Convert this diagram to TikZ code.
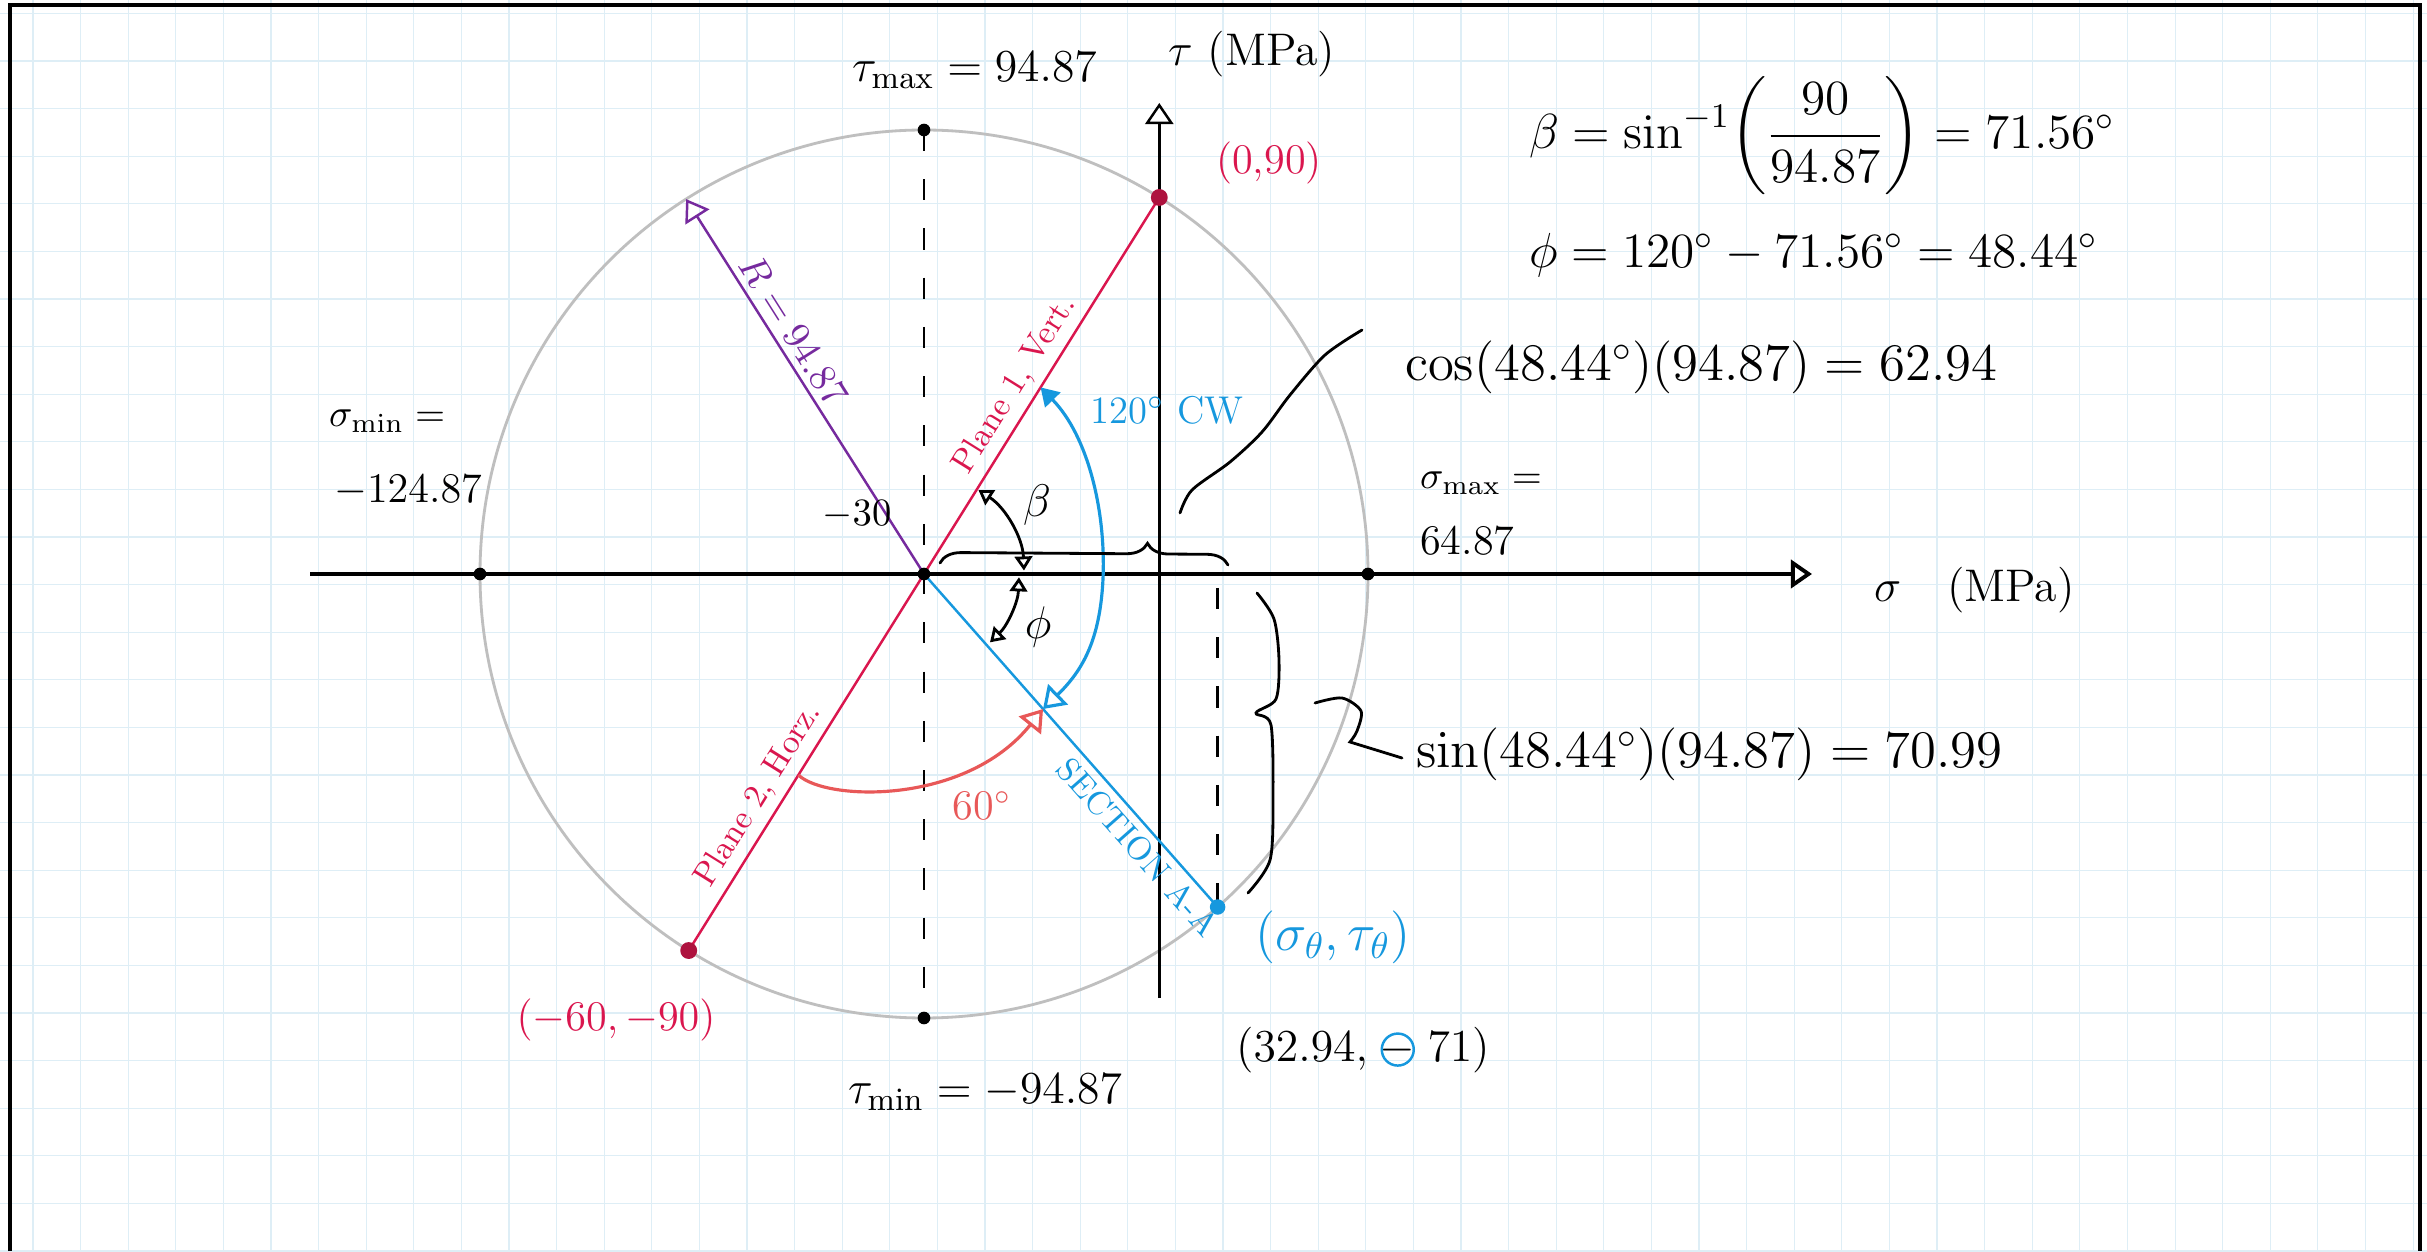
\RequirePackage{fix-cm}
\documentclass[tikz,border=0pt]{standalone}
\usepackage{amsmath,amssymb}
\usepackage{xcolor}
\usetikzlibrary{arrows.meta,calc,decorations.pathreplacing}

\definecolor{penred}{RGB}{218,22,78}
\definecolor{penpink}{RGB}{232,88,88}
\definecolor{penblue}{RGB}{22,152,222}
\definecolor{penpurple}{RGB}{118,42,158}
\definecolor{gridblue}{RGB}{222,238,246}

\newcommand{\fsz}[1]{\fontsize{#1}{#1}\selectfont}

\begin{document}
\begin{tikzpicture}[x=0.01cm, y=0.01cm,
  >={Triangle[open, length=6pt, width=8pt]},
  dot/.style={circle, fill=black, inner sep=0pt, minimum size=3.6pt},
  reddot/.style={circle, fill=penred!80!black, inner sep=0pt, minimum size=4.8pt},
  bluedot/.style={circle, fill=penblue, inner sep=0pt, minimum size=4.4pt},
  lbl/.style={inner sep=1pt, anchor=west, font=\fsz{12}},
  eqn/.style={inner sep=1pt, anchor=west, font=\fsz{15}},
  onplane/.style={inner sep=2pt, sloped, font=\fsz{9.5}},
  hand/.style={line width=0.8pt, line cap=round},
  dashline/.style={line width=0.8pt, dash pattern=on 6pt off 8pt}]

  \useasboundingbox (0,0) rectangle (2427,1251);
  \fill[white] (0,0) rectangle (2427,1251);
  \foreach \i in {0,...,50}
    \draw[gridblue, line width=0.3pt] (33+47.6*\i,0) -- ++(0,1251);
  \foreach \j in {0,...,26}
    \draw[gridblue, line width=0.3pt] (0,47.6*\j) -- ++(2427,0);
  \draw[line width=1.3pt] (10,0) -- (10,1246) -- (2420,1246) -- (2420,0);

  \coordinate (C) at (924,677);
  \coordinate (P1) at ($(C)+(58:444)$);
  \coordinate (P2) at ($(C)+(238:444)$);
  \coordinate (PA) at ($(C)+(-48.6:444)$);
  \coordinate (R) at ($(C)+(122.4:444)$);
  \coordinate (Tmax) at ($(C)+(90:444)$);
  \coordinate (Tmin) at ($(C)+(270:444)$);
  \coordinate (PAx) at ($(PA|-C)+(0,-14)$);
  \coordinate (sl) at (310,677);
  \coordinate (sr) at (1812,677);
  \coordinate (tb) at ($(P1|-C)+(0,-424)$);
  \coordinate (tt) at ($(P1|-C)+(0,471)$);

  \draw[gray!50, line width=0.8pt] (C) circle[radius=444];
  \draw[->, line width=1.1pt] (sl) -- (sr);
  \draw[->, line width=0.7pt] (tb) -- (tt);
  \draw[dashline] (Tmax) -- (Tmin);
  \draw[dashline] (PAx) -- (PA);

  \draw[penred, line width=0.7pt] (P2) -- (P1);
  \path (C) -- node[onplane, above, pos=0.47, text=penred] (pl1) {Plane 1, Vert.} (P1);
  \path (P2) -- node[onplane, above, pos=0.38, text=penred] (pl2) {Plane 2, Horz.} (C);
  \draw[penpurple, line width=0.7pt, ->] (C) -- (R);
  \path (R) -- node[onplane, above, pos=0.38, text=penpurple, font=\fsz{11}] (rlbl) {$R = 94.87$} (C);
  \draw[penblue, line width=0.7pt] (C) -- (PA);
  \path (C) -- node[onplane, below, pos=0.78, text=penblue] (sec) {SECTION A-A} (PA);

  \draw[hand, {Triangle[open,length=4pt,width=5pt]}-{Triangle[open,length=4pt,width=5pt]}]
    ($(C)+(57:100)$) arc[start angle=57, end angle=2, radius=100];
  \draw[hand, {Triangle[open,length=4pt,width=5pt]}-{Triangle[open,length=4pt,width=5pt]}]
    ($(C)+(-2:95)$) arc[start angle=-2, end angle=-46, radius=95];
  \node[font=\fsz{13}] (beta) at (1037,746) {$\beta$};
  \node[font=\fsz{13}] (phi) at (1038,624) {$\phi$};

  \coordinate (cwS) at ($(C)+(58:220)$);
  \coordinate (cwE) at ($(C)+(-48.6:180)$);
  \coordinate (sixS) at ($(C)+(238:237)$);
  \draw[penblue, line width=0.9pt, {Triangle[length=5pt,width=6pt]}-{Triangle[open,length=6pt,width=8pt]}]
    (cwS) .. controls (1088,815) and (1106,740) .. (1103,672) .. controls (1100,610) and (1082,580) .. (cwE);
  \node[text=penblue, font=\fsz{11}] (cw) at (1167,841) {120$^\circ$ CW};
  \draw[penpink, line width=0.9pt, ->] (sixS) .. controls (825,450) and (965,445) .. (cwE);
  \node[text=penpink, font=\fsz{12}] (sixty) at (982,445) {60$^\circ$};

  \draw[hand, decorate, decoration={brace, amplitude=6pt, aspect=0.72}] (940,688) -- (1228,686);
  \draw[hand] plot[smooth] coordinates {(1180,738) (1192,761) (1230,789) (1262,819) (1290,856) (1325,896) (1362,921)};
  \draw[hand] plot[smooth, tension=0.5] coordinates {(1257,658) (1274,632) (1279,591) (1276,552) (1256,538) (1271,526) (1273,451) (1270,391) (1248,358)};
  \draw[hand] plot[smooth] coordinates {(1315,548) (1342,553) (1361,540) (1357,520) (1350,509)} -- (1402,493);

  \node[dot] (cdot) at (C) {};
  \node[dot] (smin) at ($(C)+(180:444)$) {};
  \node[dot] (smax) at ($(C)+(0:444)$) {};
  \node[dot] (tmax) at (Tmax) {};
  \node[dot] (tmin) at (Tmin) {};
  \node[reddot] (p1dot) at (P1) {};
  \node[reddot] (p2dot) at (P2) {};
  \node[bluedot] (padot) at (PA) {};

  \node[lbl, font=\fsz{13}] (taumax) at (848,1181) {$\tau_{\mathrm{max}} = 94.87$};
  \node[lbl, font=\fsz{13}] (tauaxis) at (1164,1197) {$\tau$\ (MPa)};
  \node[lbl, text=penred] (p1lbl) at (1212,1088) {(0,90)};
  \node[eqn, font=\fsz{14}] (betaeq) at (1525,1115) {$\beta = \sin^{-1}\!\left(\dfrac{90}{94.87}\right) = 71.56^\circ$};
  \node[eqn, font=\fsz{14}] (phieq) at (1525,996) {$\phi = 120^\circ - 71.56^\circ = 48.44^\circ$};
  \node[eqn] (coseq) at (1401,884) {$\cos(48.44^\circ)(94.87) = 62.94$};
  \node[lbl, font=\fsz{11}] (smaxlbl) at (1416,768) {$\sigma_{\mathrm{max}} =$};
  \node[lbl] (smaxval) at (1416,710) {64.87};
  \node[lbl, font=\fsz{13}] (sigaxis) at (1870,661) {$\sigma$\quad(MPa)};
  \node[lbl, font=\fsz{11}] (sminlbl) at (325,830) {$\sigma_{\mathrm{min}} =$};
  \node[lbl] (sminval) at (330,760) {$-124.87$};
  \node[font=\fsz{11}] (cval) at (857,736) {$-30$};
  \node[eqn] (sineq) at (1412,497) {$\sin(48.44^\circ)(94.87) = 70.99$};
  \node[text=penblue, font=\fsz{15}] (palbl) at (1333,314) {$(\sigma_\theta, \tau_\theta)$};
  \node[lbl, font=\fsz{13}, anchor=base west] (coordl) at (1232,190) {$(32.94,$};
  \node[font=\fsz{13}, inner sep=1pt, anchor=base west] (coordm) at ([xshift=1pt]coordl.base east) {$-$};
  \draw[penblue, line width=0.7pt] (coordm.center) circle[radius=16];
  \node[font=\fsz{13}, inner sep=1pt, anchor=base west] (coordr) at ([xshift=1pt]coordm.base east) {$71)$};
  \node[text=penred, font=\fsz{12}] (p2lbl) at (616,231) {$(-60, -90)$};
  \node[lbl, font=\fsz{13}] (taumin) at (844,159) {$\tau_{\mathrm{min}} = -94.87$};
\end{tikzpicture}
\end{document}
